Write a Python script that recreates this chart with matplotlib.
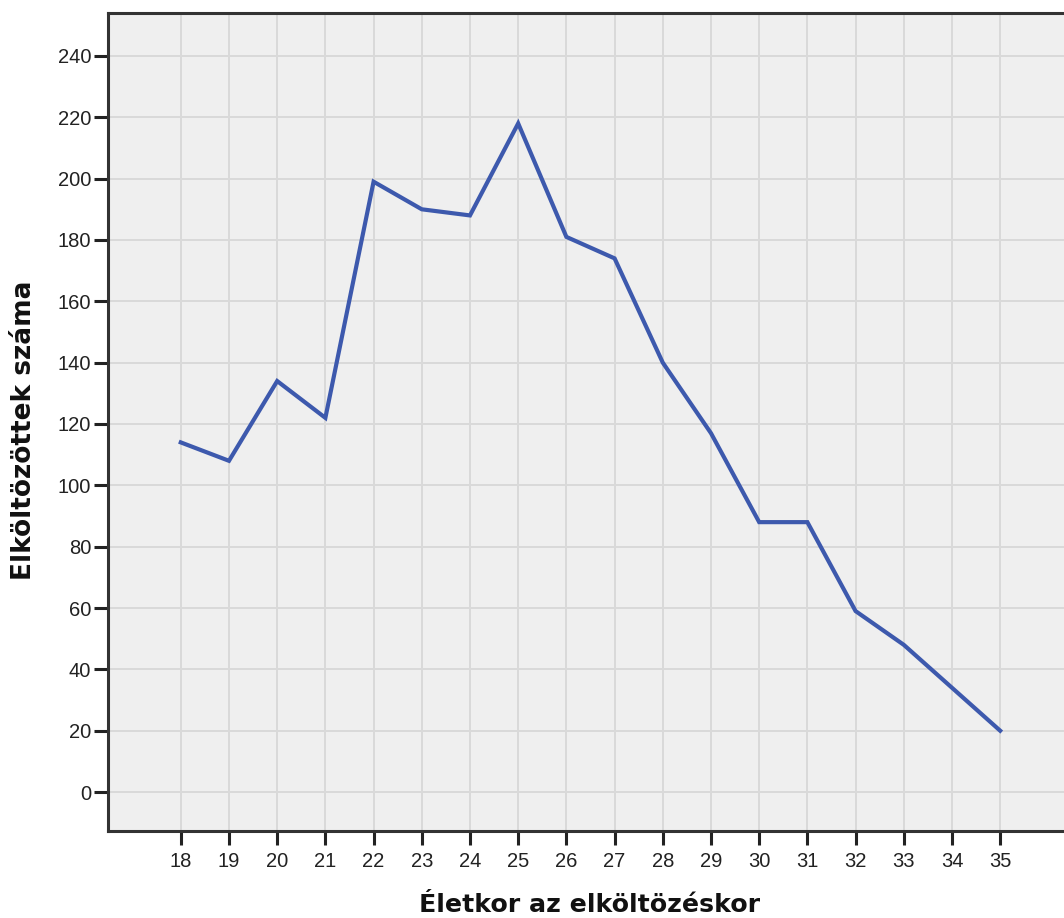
import numpy as np
import matplotlib.pyplot as plt

# --- Data ---
ages = [18, 19, 20, 21, 22, 23, 24, 25, 26, 27, 28, 29, 30, 31, 32, 33, 34, 35]
counts = [114, 108, 134, 122, 199, 190, 188, 218, 181, 174, 140, 117, 88, 88, 59, 48, 34, 20]
y_ticks = list(range(0, 241, 20))

xlabel = "Életkor az elköltözéskor"
ylabel = "Elköltözöttek száma"

plt.rcParams['font.family'] = ['Liberation Sans', 'DejaVu Sans']

fig = plt.figure(figsize=(10.64, 9.18), dpi=100)
# axes runs past the right edge of the picture (cropped, like the original)
ax = fig.add_axes([108 / 1064, 1 - 831 / 918, 1.0, (831 - 13) / 918])
ax.set_facecolor('#efefef')

ax.plot(ages, counts, color='#3d59ad', linewidth=3.0, solid_joinstyle='miter', zorder=3)

px_per_year = 48.2
ax.set_xlim(16.49, 16.49 + 1064 / px_per_year)
ax.set_ylim(-12.7, 254.0)
ax.set_xticks(ages)
ax.set_yticks(y_ticks)

ax.grid(True, color='#d9d9d9', linewidth=1.4, zorder=0)
ax.set_axisbelow(True)

for side in ['left', 'bottom', 'top']:
    ax.spines[side].set_color('#333333')
    ax.spines[side].set_linewidth(2.2)
ax.spines['right'].set_visible(False)

ax.tick_params(axis='both', colors='#222222', labelsize=14.5, width=2.2, length=10)
ax.tick_params(axis='y', pad=2)
ax.tick_params(axis='x', pad=5)

lab_font = ['DejaVu Sans']
tx = fig.text(590 / 1064, 1 - 905 / 918, xlabel, ha='center', va='center',
              fontsize=18, fontweight='bold', color='#111111', family=lab_font)
ty = fig.text(24 / 1064, 1 - 430 / 918, ylabel, ha='center', va='center', rotation=90,
              fontsize=18, fontweight='bold', color='#111111', family=lab_font)

# scale the axis titles so their length matches the original
fig.canvas.draw()
r = fig.canvas.get_renderer()
tx.set_fontsize(18 * 341 / tx.get_window_extent(r).width)
ty.set_fontsize(18 * 300 / ty.get_window_extent(r).height)

fig.savefig('out.png', dpi=100)
